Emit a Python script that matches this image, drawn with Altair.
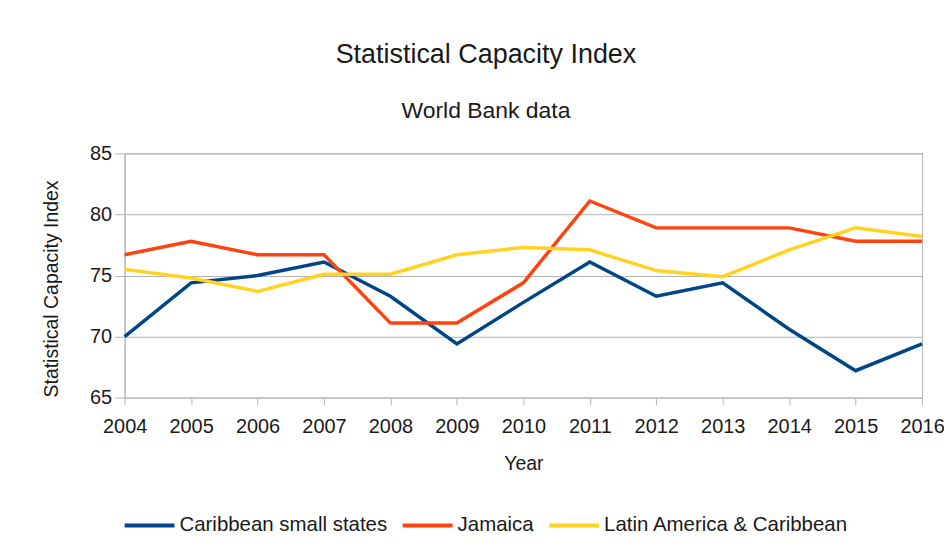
import altair as alt
import pandas as pd

years = list(range(2004, 2017))
caribbean_small_states = [70.0, 74.4, 75.0, 76.1, 73.3, 69.4, 72.8, 76.1, 73.3, 74.4, 70.6, 67.2, 69.4]
jamaica = [76.7, 77.8, 76.7, 76.7, 71.1, 71.1, 74.4, 81.1, 78.9, 78.9, 78.9, 77.8, 77.8]
latin_america_caribbean = [75.5, 74.8, 73.7, 75.1, 75.1, 76.7, 77.3, 77.1, 75.4, 74.9, 77.1, 78.9, 78.2]

series_names = ["Caribbean small states", "Jamaica", "Latin America & Caribbean"]
series_colors = ["#004586", "#ff420e", "#ffd320"]
y_ticks = [65, 70, 75, 80, 85]

rows = []
for name, vals in zip(series_names, [caribbean_small_states, jamaica, latin_america_caribbean]):
    for yr, v in zip(years, vals):
        rows.append({"Year": yr, "Value": v, "Series": name})
df = pd.DataFrame(rows)

FONT = "Liberation Sans"
TXT = "#1a1a1a"
GRID = "#b3b3b3"

chart = (
    alt.Chart(df)
    .mark_line(strokeWidth=3.5)
    .encode(
        x=alt.X(
            "Year:Q",
            scale=alt.Scale(domain=[2004, 2016], nice=False, zero=False),
            axis=alt.Axis(
                values=years, format="d", title="Year", grid=False,
                domain=False, ticks=True, tickSize=7, tickColor=GRID,
                labelPadding=12, titlePadding=18, labelFlush=False,
                labelFont=FONT, titleFont=FONT, labelFontSize=20, titleFontSize=19.5,
                labelColor=TXT, titleColor=TXT, titleFontWeight="normal",
            ),
        ),
        y=alt.Y(
            "Value:Q",
            scale=alt.Scale(domain=[65, 85], nice=False, zero=False),
            axis=alt.Axis(
                values=y_ticks, title="Statistical Capacity Index", grid=True,
                gridColor=GRID, domain=True, domainColor=GRID, tickSize=10,
                tickColor=GRID, labelPadding=3, titlePadding=28, titleY=135.5,
                labelFont=FONT, titleFont=FONT, labelFontSize=20, titleFontSize=19.5,
                labelColor=TXT, titleColor=TXT, titleFontWeight="normal",
            ),
        ),
        color=alt.Color(
            "Series:N",
            sort=series_names,
            scale=alt.Scale(domain=series_names, range=series_colors),
            legend=alt.Legend(
                title=None, orient="none", direction="horizontal",
                legendX=-2, legendY=346, symbolType="stroke",
                symbolSize=2500, symbolStrokeWidth=4, labelOffset=3,
                columnPadding=7, labelFontSize=20.5, labelFont=FONT, labelColor=TXT,
                labelLimit=400,
            ),
        ),
    )
    .properties(
        width=800,
        height=245,
        autosize=alt.AutoSizeParams(type="none"),
        padding={"left": 117, "top": 145, "right": 22, "bottom": 141},
        background="white",
        title=alt.TitleParams(
            text="Statistical Capacity Index",
            subtitle="World Bank data",
            anchor="middle",
            frame="bounds",
            dx=-7,
            fontSize=27,
            subtitleFontSize=23,
            font=FONT,
            subtitleFont=FONT,
            color=TXT,
            subtitleColor=TXT,
            fontWeight="normal",
            offset=20,
            subtitlePadding=31,
        ),
    )
    .configure_view(stroke=GRID, strokeWidth=1)
)

chart.save("out.html", embed_options={"renderer": "svg", "actions": False})
